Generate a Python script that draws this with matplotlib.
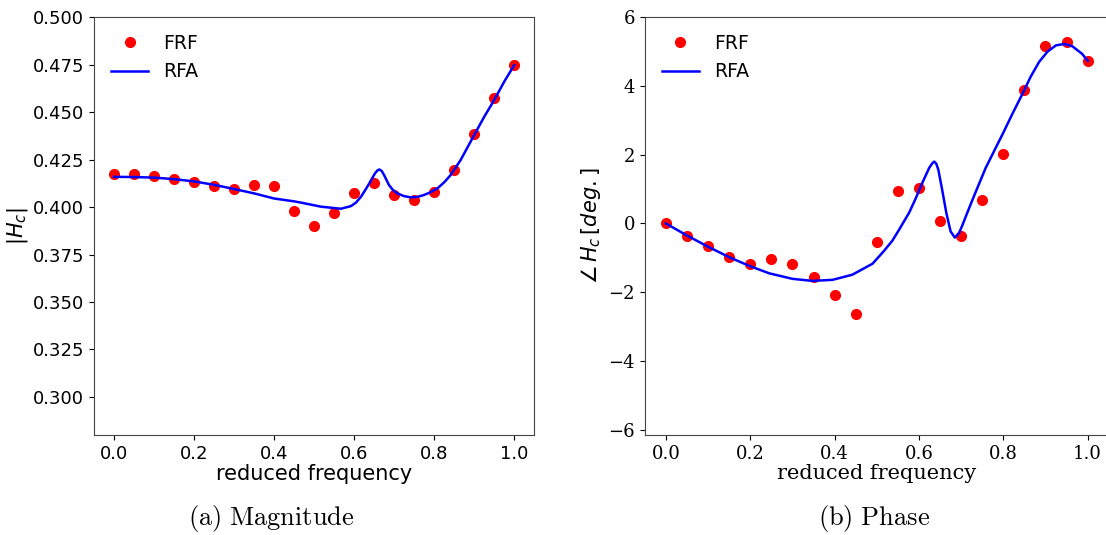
import numpy as np
import matplotlib
matplotlib.use('Agg')
import matplotlib.pyplot as plt

# FRF samples (reduced frequency grid)
k_frf = [0.0, 0.05, 0.1, 0.15, 0.2, 0.25, 0.3, 0.35, 0.4, 0.45, 0.5,
         0.55, 0.6, 0.65, 0.7, 0.75, 0.8, 0.85, 0.9, 0.95, 1.0]
mag_frf = [0.4172, 0.4172, 0.4162, 0.4147, 0.4133, 0.4112, 0.4093, 0.4116,
           0.4112, 0.3979, 0.3898, 0.3968, 0.4072, 0.4126, 0.4062, 0.4037,
           0.4079, 0.4195, 0.4384, 0.4572, 0.4747]
phase_frf = [0.0, -0.36, -0.67, -0.97, -1.17, -1.03, -1.18, -1.56, -2.07,
             -2.64, -0.55, 0.94, 1.04, 0.07, -0.36, 0.69, 2.02, 3.87, 5.16,
             5.27, 4.72]

# RFA fit
k_mag_rfa = [0.0, 0.05, 0.1, 0.15, 0.2, 0.25, 0.3, 0.35, 0.4, 0.45, 0.468,
             0.517, 0.567, 0.592, 0.605, 0.617, 0.628, 0.638, 0.646, 0.652,
             0.658, 0.663, 0.669, 0.675, 0.681, 0.687, 0.697, 0.708, 0.724,
             0.741, 0.757, 0.774, 0.791, 0.808, 0.825, 0.841, 0.866, 0.9,
             0.925, 0.95, 0.975, 1.0]
mag_rfa = [0.4159, 0.4158, 0.4155, 0.4147, 0.4135, 0.4117, 0.4095, 0.4072,
           0.4045, 0.4030, 0.4023, 0.4002, 0.3991, 0.4005, 0.4024, 0.4054,
           0.4090, 0.4125, 0.4155, 0.4177, 0.4192, 0.4198, 0.4190, 0.4168,
           0.4142, 0.4116, 0.4090, 0.4072, 0.4058, 0.4051, 0.4053, 0.4063,
           0.4078, 0.4098, 0.4130, 0.4168, 0.4247, 0.4379, 0.4475, 0.4563,
           0.4660, 0.4747]

k_ph_rfa = [0.0, 0.047, 0.099, 0.15, 0.197, 0.245, 0.3, 0.347, 0.395, 0.442,
            0.49, 0.517, 0.537, 0.553, 0.577, 0.592, 0.608, 0.624, 0.631,
            0.636, 0.641, 0.646, 0.655, 0.665, 0.675, 0.685, 0.695, 0.703,
            0.711, 0.723, 0.735, 0.758, 0.782, 0.8, 0.82, 0.845, 0.865,
            0.885, 0.905, 0.925, 0.945, 0.964, 0.987, 1.0]
phase_rfa = [0.0, -0.33, -0.67, -0.98, -1.23, -1.45, -1.61, -1.67, -1.64,
             -1.49, -1.17, -0.80, -0.50, -0.18, 0.32, 0.72, 1.18, 1.61, 1.74,
             1.80, 1.74, 1.56, 0.98, 0.30, -0.23, -0.41, -0.28, -0.05, 0.20,
             0.57, 0.93, 1.61, 2.20, 2.64, 3.15, 3.76, 4.27, 4.70, 5.00, 5.18,
             5.22, 5.15, 4.93, 4.73]

fig = plt.figure(figsize=(11.06, 5.35), dpi=100)
ax1 = fig.add_axes([0.085, 0.187, 0.398, 0.781])
ax2 = fig.add_axes([0.583, 0.187, 0.4195, 0.781])

ax1.plot(k_frf, mag_frf, 'o', color='red', markersize=7, label='FRF')
ax1.plot(k_mag_rfa, mag_rfa, '-', color='blue', linewidth=1.8, label='RFA')
ax1.set_ylim(0.28, 0.5)
ax1.set_xlim(-0.05, 1.05)
ax1.set_xlabel('reduced frequency', fontsize=15, labelpad=1)
ax1.set_ylabel(r'$|H_c|$', fontsize=15, labelpad=2)
ax1.legend(loc='upper left', frameon=False, fontsize=13.5, numpoints=1)
ax1.tick_params(labelsize=13)

ax2.plot(k_frf, phase_frf, 'o', color='red', markersize=7, label='FRF')
ax2.plot(k_ph_rfa, phase_rfa, '-', color='blue', linewidth=1.8, label='RFA')
ax2.set_ylim(-6.15, 6)
ax2.set_xlim(-0.05, 1.05)
ax2.set_xlabel('reduced frequency', fontsize=15, family='DejaVu Serif', labelpad=1)
ax2.set_ylabel(r'$\angle\, H_c\,[deg.]$', fontsize=15)
ax2.legend(loc='upper left', frameon=False, fontsize=13.5, numpoints=1)
ax2.tick_params(labelsize=13)
for lbl in ax2.get_xticklabels() + ax2.get_yticklabels():
    lbl.set_family('DejaVu Serif')

for ax in (ax1, ax2):
    for s in ax.spines.values():
        s.set_color('#444444')

fig.text(0.245, 0.03, r'$\mathrm{(a)\ Magnitude}$', ha='center', va='center',
         fontsize=19, math_fontfamily='cm')
fig.text(0.79, 0.03, r'$\mathrm{(b)\ Phase}$', ha='center', va='center',
         fontsize=19, math_fontfamily='cm')

fig.savefig('out.png', dpi=100)
